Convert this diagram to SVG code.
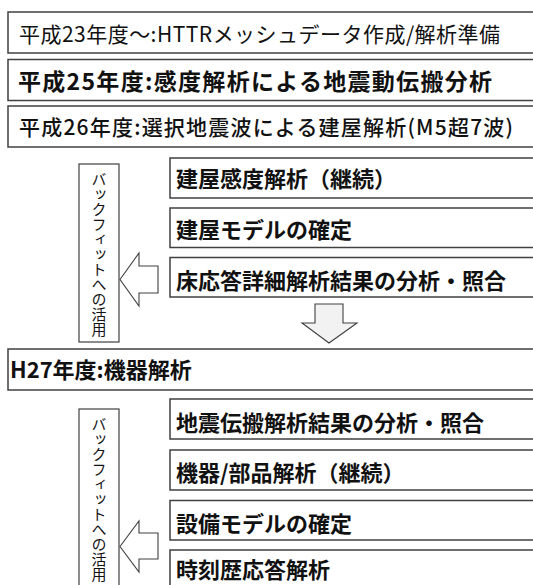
<svg xmlns="http://www.w3.org/2000/svg" width="533" height="585" viewBox="0 0 533 585">
<style>
.box{fill:#fff;stroke:#404040;stroke-width:1.5}
.side{fill:#fff;stroke:#404040;stroke-width:1.2}
.arr{fill:#fff;stroke:#404040;stroke-width:1.1}
.darr{fill:#f2f2f2;stroke:#404040;stroke-width:1.1}
text{font-family:"Noto Sans CJK JP","Noto Sans",sans-serif;fill:#111}
.r{font-size:21px;font-weight:400}
.b{font-size:22px;font-weight:700}
.v{font-size:15px;font-weight:400;writing-mode:vertical-rl}
</style>
<rect width="533" height="585" fill="#fff"/>
<g id="n-h23"><rect class="box" x="8" y="12" width="540" height="41"/><text class="r" x="19" y="42" textLength="481" lengthAdjust="spacing">平成23年度～:HTTRメッシュデータ作成/解析準備</text></g>
<g id="n-h25"><rect class="box" x="8" y="59.5" width="540" height="41"/><text class="b" style="font-size:23px" x="18" y="90" textLength="474" lengthAdjust="spacing">平成25年度:感度解析による地震動伝搬分析</text></g>
<g id="n-h26"><rect class="box" x="8" y="106" width="540" height="41"/><text class="b" style="font-size:21px;font-weight:500" x="19" y="135" textLength="494" lengthAdjust="spacing">平成26年度:選択地震波による建屋解析(M5超7波)</text></g>
<g id="n-side1"><rect class="side" x="79" y="164" width="40" height="178"/><text class="v" x="99" y="172">バックフィットへの活用</text></g>
<g id="n-a1"><rect class="box" x="170" y="158" width="380" height="40"/><text class="b" x="176" y="187">建屋感度解析（継続）</text></g>
<g id="n-a2"><rect class="box" x="170" y="208" width="380" height="39.5"/><text class="b" x="176" y="238">建屋モデルの確定</text></g>
<g id="n-a3"><rect class="box" x="170" y="257.5" width="380" height="39.5"/><text class="b" x="176" y="289">床応答詳細解析結果の分析・照合</text></g>
<g id="n-h27"><rect class="box" x="8" y="349" width="540" height="41"/><text class="b" x="10" y="378">H27年度:機器解析</text></g>
<g id="n-side2"><rect class="side" x="79" y="409" width="40" height="190"/><text class="v" x="99" y="417">バックフィットへの活用</text></g>
<g id="n-b1"><rect class="box" x="170" y="399" width="380" height="40"/><text class="b" x="176" y="431">地震伝搬解析結果の分析・照合</text></g>
<g id="n-b2"><rect class="box" x="170" y="450" width="380" height="40"/><text class="b" x="176" y="481">機器/部品解析（継続）</text></g>
<g id="n-b3"><rect class="box" x="170" y="500.5" width="380" height="39.5"/><text class="b" x="176" y="532">設備モデルの確定</text></g>
<g id="n-b4"><rect class="box" x="170" y="550" width="380" height="50"/><text class="b" x="176" y="578">時刻歴応答解析</text></g>
<g id="connectors">
<polygon class="arr" points="120,279.5 139,253 139,266 158,266 158,293 139,293 139,306"/>
<polygon class="darr" points="315,304 343,304 343,323 357,323 329,343 302,323 315,323"/>
<polygon class="arr" points="120,546.5 139,521 139,533 158,533 158,559 139,559 139,572"/>
</g>
</svg>
